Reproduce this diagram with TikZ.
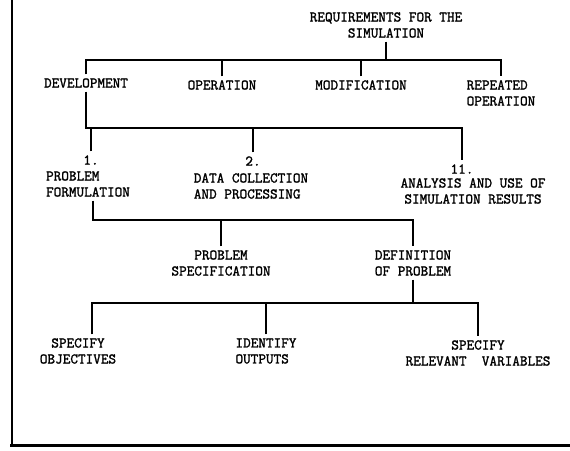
\documentclass[tikz,border=0pt]{standalone}
\usepackage{fontspec}
\newfontfamily\typew{Latin Modern Mono}[FakeBold=1.6]
\begin{document}
\begin{tikzpicture}[x=1pt, y=-1pt, line width=1.6pt,
        lbl/.style={inner sep=0pt, outer sep=4pt, align=center,
            font=\typew\fontsize{14.8}{16}\selectfont},
        lleft/.style={lbl, align=left}]
    \useasboundingbox (0,0) rectangle (570,450);
    % page frame
    \draw[line width=2.2pt] (12,0) -- (12,445);
    \draw[line width=3pt] (10,445) -- (570,445);
    % texts
    \node[lbl] (req) at (386,25) {REQUIREMENTS FOR THE\\SIMULATION};
    \node[lbl] (dev) at (86,83) {DEVELOPMENT};
    \node[lbl] (oper) at (222,85) {OPERATION};
    \node[lbl] (modif) at (361,85) {MODIFICATION};
    \node[lleft] (rep) at (501,93) {REPEATED\\OPERATION};
    \node[lbl] (n1) at (91,160) {1.};
    \node[lleft] (pf) at (88,184) {PROBLEM\\FORMULATION};
    \node[lbl] (n2) at (253,161) {2.};
    \node[lleft] (dc) at (251,186) {DATA COLLECTION\\AND PROCESSING};
    \node[lbl] (n11) at (462,169) {11.};
    \node[lbl] (ana) at (473,191) {ANALYSIS AND USE OF\\SIMULATION RESULTS};
    \node[lbl] (ps) at (221,263) {PROBLEM\\SPECIFICATION};
    \node[lbl] (dp) at (413,263) {DEFINITION\\OF PROBLEM};
    \node[lbl] (so) at (78,351) {SPECIFY\\OBJECTIVES};
    \node[lleft] (io) at (266,351) {IDENTIFY\\OUTPUTS};
    \node[lbl] (sv) at (478,353) {SPECIFY\\RELEVANT\ \ VARIABLES};
    % bars
    \coordinate (bar1) at (0,60);
    \coordinate (bar2) at (0,128);
    \coordinate (bar3) at (0,220);
    \coordinate (bar4) at (0,303);
    \draw (req.south) -- (req.south |- bar1);
    \draw (dev.north) |- (rep.north |- bar1) -- (rep.north);
    \draw (oper.north) -- (oper.north |- bar1);
    \draw (modif.north) -- (modif.north |- bar1);
    \draw (dev.south) |- (n11.north |- bar2) -- (n11.north);
    \draw (n1.north) -- (n1.north |- bar2);
    \draw (n2.north) -- (n2.north |- bar2);
    \draw ([xshift=5pt]pf.south) |- (dp.north |- bar3) -- (dp.north);
    \draw (ps.north) -- (ps.north |- bar3);
    \draw (dp.south) -- (dp.south |- bar4);
    \draw ([xshift=14pt]so.north) |- (sv.north |- bar4) -- (sv.north);
    \draw (io.north) -- (io.north |- bar4);
\end{tikzpicture}
\end{document}
